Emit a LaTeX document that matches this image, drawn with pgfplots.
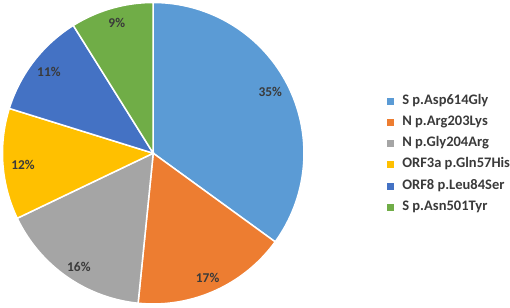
\documentclass[border=0pt]{standalone}
\usepackage{pgfplots}
\pgfplotsset{compat=1.18}
\usepackage{fontspec}
\setmainfont{Carlito}
\definecolor{cA}{HTML}{5B9BD5}
\definecolor{cB}{HTML}{ED7D31}
\definecolor{cC}{HTML}{A5A5A5}
\definecolor{cD}{HTML}{FFC000}
\definecolor{cE}{HTML}{4472C4}
\definecolor{cF}{HTML}{70AD47}
\definecolor{txt}{HTML}{3A3A3A}
% shares (percent)
\def\vA{35.0}\def\vB{16.6}\def\vC{16.3}\def\vD{11.9}\def\vE{11.3}\def\vF{8.9}
\pgfmathsetmacro\aA{90}
\pgfmathsetmacro\aB{\aA-3.6*\vA}
\pgfmathsetmacro\aC{\aB-3.6*\vB}
\pgfmathsetmacro\aD{\aC-3.6*\vC}
\pgfmathsetmacro\aE{\aD-3.6*\vD}
\pgfmathsetmacro\aF{\aE-3.6*\vE}
\pgfmathsetmacro\aG{\aF-3.6*\vF}
\def\R{151}
\begin{document}
\begin{tikzpicture}
\begin{axis}[
  x=1bp, y=1bp,
  xmin=-153.5, xmax=356.5, ymin=-154.5, ymax=153.5,
  axis line style={draw=none}, xtick=\empty, ytick=\empty,
  legend cell align=left,
  legend image code/.code={\path[#1, draw=none] (0bp,-3.5bp) rectangle (7bp,3.5bp);},
  legend style={draw=none, fill=none, inner sep=0pt,
    at={(axis description cs:0.7594,0.4984)}, anchor=west,
    font=\fontsize{14.6}{16}\selectfont\bfseries, text=txt,
    nodes={inner sep=0pt, text height=9bp, text depth=3bp},
    row sep=9.3bp,
    /tikz/every odd column/.append style={column sep=8.5bp}},
]
\addplot[fill=cA, draw=white, line width=1.5bp, domain=\aB:\aA, samples=90, variable=\t] ({\R*cos(\t)},{\R*sin(\t)}) -- (0,0) -- cycle;
\addlegendentry{S p.Asp614Gly}
\addplot[fill=cB, draw=white, line width=1.5bp, domain=\aC:\aB, samples=60, variable=\t] ({\R*cos(\t)},{\R*sin(\t)}) -- (0,0) -- cycle;
\addlegendentry{N p.Arg203Lys}
\addplot[fill=cC, draw=white, line width=1.5bp, domain=\aD:\aC, samples=60, variable=\t] ({\R*cos(\t)},{\R*sin(\t)}) -- (0,0) -- cycle;
\addlegendentry{N p.Gly204Arg}
\addplot[fill=cD, draw=white, line width=1.5bp, domain=\aE:\aD, samples=50, variable=\t] ({\R*cos(\t)},{\R*sin(\t)}) -- (0,0) -- cycle;
\addlegendentry{ORF3a p.Gln57His}
\addplot[fill=cE, draw=white, line width=1.5bp, domain=\aF:\aE, samples=50, variable=\t] ({\R*cos(\t)},{\R*sin(\t)}) -- (0,0) -- cycle;
\addlegendentry{ORF8 p.Leu84Ser}
\addplot[fill=cF, draw=white, line width=1.5bp, domain=\aG:\aF, samples=40, variable=\t] ({\R*cos(\t)},{\R*sin(\t)}) -- (0,0) -- cycle;
\addlegendentry{S p.Asn501Tyr}
\addplot[forget plot, draw=none, mark=none, nodes near coords={\pgfplotspointmeta\%},
  point meta=explicit symbolic,
  every node near coord/.append style={anchor=center, text=txt, font=\fontsize{13.5}{15}\selectfont\bfseries}]
  table[meta=lab] {
x y lab
117.2 61.2 35
54.5 -124.5 17
-74.5 -113.5 16
-130.5 -11.5 12
-104.5 81.5 11
-36.5 130.5 9
};
\end{axis}
\end{tikzpicture}
\end{document}
